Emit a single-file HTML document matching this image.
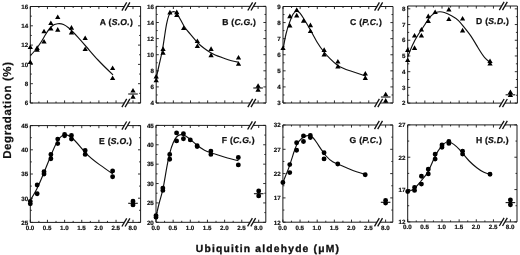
<!DOCTYPE html>
<html><head><meta charset="utf-8"><style>
html,body{margin:0;padding:0;background:#fff;}
body{width:520px;height:255px;overflow:hidden;}
svg{display:block;filter:grayscale(1);}
text{text-rendering:geometricPrecision;}
.tl{font-family:"Liberation Sans",sans-serif;font-weight:bold;font-size:6.2px;fill:#111;stroke:#111;stroke-width:0.2px;}
.pl{font-family:"Liberation Sans",sans-serif;font-weight:bold;font-size:8.6px;fill:#111;letter-spacing:0.25px;stroke:#111;stroke-width:0.25px;}
.at{font-family:"Liberation Sans",sans-serif;font-weight:bold;fill:#111;}
</style></head><body>
<svg width="520" height="255" viewBox="0 0 520 255">
<rect width="520" height="255" fill="#fff"/>
<path d="M124.3 6.5H30.3V103H124.3" fill="none" stroke="#1a1a1a" stroke-width="1.0"/>
<path d="M127.5 6.5H140.6V103H127.5" fill="none" stroke="#1a1a1a" stroke-width="1.0"/>
<line x1="121.9" y1="10.6" x2="126.7" y2="2.4" stroke="#111" stroke-width="1.3"/>
<line x1="125.1" y1="10.6" x2="129.9" y2="2.4" stroke="#111" stroke-width="1.3"/>
<line x1="121.9" y1="107.1" x2="126.7" y2="98.9" stroke="#111" stroke-width="1.3"/>
<line x1="125.1" y1="107.1" x2="129.9" y2="98.9" stroke="#111" stroke-width="1.3"/>
<path d="M30.3 103h2.6M140.6 103h-2.6M30.3 93.35h1.5M140.6 93.35h-1.5M30.3 83.7h2.6M140.6 83.7h-2.6M30.3 74.05h1.5M140.6 74.05h-1.5M30.3 64.4h2.6M140.6 64.4h-2.6M30.3 54.75h1.5M140.6 54.75h-1.5M30.3 45.1h2.6M140.6 45.1h-2.6M30.3 35.45h1.5M140.6 35.45h-1.5M30.3 25.8h2.6M140.6 25.8h-2.6M30.3 16.15h1.5M140.6 16.15h-1.5M30.3 6.5h2.6M140.6 6.5h-2.6M30.3 103v-2.6M30.3 6.5v2.6M38.88 103v-1.5M38.88 6.5v1.5M47.45 103v-2.6M47.45 6.5v2.6M56.02 103v-1.5M56.02 6.5v1.5M64.6 103v-2.6M64.6 6.5v2.6M73.17 103v-1.5M73.17 6.5v1.5M81.75 103v-2.6M81.75 6.5v2.6M90.32 103v-1.5M90.32 6.5v1.5M98.9 103v-2.6M98.9 6.5v2.6M107.47 103v-1.5M107.47 6.5v1.5M116.05 103v-2.6M116.05 6.5v2.6M133 103v-2.6M133 6.5v2.6" stroke="#1a1a1a" stroke-width="0.9" fill="none"/>
<text x="28.1" y="105.2" class="tl" text-anchor="end">6</text>
<text x="28.1" y="85.9" class="tl" text-anchor="end">8</text>
<text x="28.1" y="66.6" class="tl" text-anchor="end">10</text>
<text x="28.1" y="47.3" class="tl" text-anchor="end">12</text>
<text x="28.1" y="28" class="tl" text-anchor="end">14</text>
<text x="28.1" y="8.7" class="tl" text-anchor="end">16</text>
<text x="99.8" y="24.8" class="pl" letter-spacing="0.25">A (<tspan font-style="italic">S.O.</tspan>)</text>
<path d="M30.3 55.7 C31.87 54.04 33.43 52.37 35 50.5 C36.87 48.27 38.73 45.74 40.6 42.8 C42.37 40.02 44.13 36.86 45.9 34 C47.87 30.82 49.83 28 51.8 26.3 C53.73 24.63 55.67 24.03 57.6 23.8 C59.57 23.56 61.53 23.69 63.5 24.5 C65.27 25.22 67.03 26.49 68.8 28 C71.73 30.5 74.67 33.67 77.6 36.9 C80.73 40.35 83.87 43.89 87 47.5 C90.67 51.72 94.33 56.05 98 60 C103 65.39 108 70.1 113 74.8" fill="none" stroke="#111" stroke-width="1.15"/>
<line x1="128.2" y1="94" x2="137.8" y2="94" stroke="#111" stroke-width="1.1"/>
<path d="M30.3 44.5l2.65 4.6h-5.3zM30.3 59.5l2.65 4.6h-5.3zM37.16 45.3l2.65 4.6h-5.3zM37.16 47.2l2.65 4.6h-5.3zM44.02 28.7l2.65 4.6h-5.3zM44.02 39l2.65 4.6h-5.3zM50.88 20.5l2.65 4.6h-5.3zM50.88 26l2.65 4.6h-5.3zM57.74 14.5l2.65 4.6h-5.3zM57.74 27.1l2.65 4.6h-5.3zM71.46 25.1l2.65 4.6h-5.3zM71.46 29.8l2.65 4.6h-5.3zM85.18 35.5l2.65 4.6h-5.3zM85.18 46.5l2.65 4.6h-5.3zM112.62 65.5l2.65 4.6h-5.3zM112.62 75.4l2.65 4.6h-5.3zM133 87.9l2.65 4.6h-5.3zM133 94.1l2.65 4.6h-5.3z" fill="#000"/>
<path d="M250.2 6.4H156.2V103H250.2" fill="none" stroke="#1a1a1a" stroke-width="1.0"/>
<path d="M253.4 6.4H266V103H253.4" fill="none" stroke="#1a1a1a" stroke-width="1.0"/>
<line x1="247.8" y1="10.5" x2="252.6" y2="2.3" stroke="#111" stroke-width="1.3"/>
<line x1="251" y1="10.5" x2="255.8" y2="2.3" stroke="#111" stroke-width="1.3"/>
<line x1="247.8" y1="107.1" x2="252.6" y2="98.9" stroke="#111" stroke-width="1.3"/>
<line x1="251" y1="107.1" x2="255.8" y2="98.9" stroke="#111" stroke-width="1.3"/>
<path d="M156.2 103h2.6M266 103h-2.6M156.2 94.95h1.5M266 94.95h-1.5M156.2 86.9h2.6M266 86.9h-2.6M156.2 78.85h1.5M266 78.85h-1.5M156.2 70.8h2.6M266 70.8h-2.6M156.2 62.75h1.5M266 62.75h-1.5M156.2 54.7h2.6M266 54.7h-2.6M156.2 46.65h1.5M266 46.65h-1.5M156.2 38.6h2.6M266 38.6h-2.6M156.2 30.55h1.5M266 30.55h-1.5M156.2 22.5h2.6M266 22.5h-2.6M156.2 14.45h1.5M266 14.45h-1.5M156.2 6.4h2.6M266 6.4h-2.6M156.2 103v-2.6M156.2 6.4v2.6M164.77 103v-1.5M164.77 6.4v1.5M173.35 103v-2.6M173.35 6.4v2.6M181.92 103v-1.5M181.92 6.4v1.5M190.5 103v-2.6M190.5 6.4v2.6M199.07 103v-1.5M199.07 6.4v1.5M207.65 103v-2.6M207.65 6.4v2.6M216.22 103v-1.5M216.22 6.4v1.5M224.8 103v-2.6M224.8 6.4v2.6M233.38 103v-1.5M233.38 6.4v1.5M241.95 103v-2.6M241.95 6.4v2.6M258.1 103v-2.6M258.1 6.4v2.6" stroke="#1a1a1a" stroke-width="0.9" fill="none"/>
<text x="154" y="105.2" class="tl" text-anchor="end">4</text>
<text x="154" y="89.1" class="tl" text-anchor="end">6</text>
<text x="154" y="73" class="tl" text-anchor="end">8</text>
<text x="154" y="56.9" class="tl" text-anchor="end">10</text>
<text x="154" y="40.8" class="tl" text-anchor="end">12</text>
<text x="154" y="24.7" class="tl" text-anchor="end">14</text>
<text x="154" y="8.6" class="tl" text-anchor="end">16</text>
<text x="222.2" y="24.7" class="pl" letter-spacing="0.25">B (<tspan font-style="italic">C.G.</tspan>)</text>
<path d="M156.2 78.5 C157.13 74.03 158.07 69.55 159 65.5 C160.13 60.58 161.27 56.29 162.4 50 C163.17 45.75 163.93 40.58 164.7 35.5 C165.3 31.52 165.9 27.59 166.5 24.4 C167.27 20.32 168.03 17.44 168.8 15.6 C169.8 13.2 170.8 12.55 171.8 12.1 C172.67 11.71 173.53 11.46 174.4 11.7 C175.27 11.94 176.13 12.68 177 13.8 C177.9 14.96 178.8 16.54 179.7 18.2 C181.17 20.91 182.63 23.85 184.1 26.2 C186.17 29.52 188.23 31.67 190.3 34.1 C192.67 36.88 195.03 40.01 197.4 42.5 C199.73 44.95 202.07 46.78 204.4 48.5 C206.5 50.05 208.6 51.5 210.7 52.7 C214.33 54.77 217.97 56.08 221.6 57.4 C225.27 58.74 228.93 60.09 232.6 61 C234.57 61.49 236.53 61.84 238.5 62.2" fill="none" stroke="#111" stroke-width="1.15"/>
<line x1="253.3" y1="88" x2="262.9" y2="88" stroke="#111" stroke-width="1.1"/>
<path d="M156.2 73.8l2.65 4.6h-5.3zM156.2 77.7l2.65 4.6h-5.3zM163.06 46.3l2.65 4.6h-5.3zM163.06 50.2l2.65 4.6h-5.3zM169.92 9.8l2.65 4.6h-5.3zM176.78 9.6l2.65 4.6h-5.3zM176.78 12.4l2.65 4.6h-5.3zM183.64 25.5l2.65 4.6h-5.3zM197.36 38.5l2.65 4.6h-5.3zM197.36 43.4l2.65 4.6h-5.3zM211.08 46.3l2.65 4.6h-5.3zM211.08 52.6l2.65 4.6h-5.3zM238.52 54.9l2.65 4.6h-5.3zM238.52 61.2l2.65 4.6h-5.3zM258.1 83.2l2.65 4.6h-5.3zM258.1 87.1l2.65 4.6h-5.3z" fill="#000"/>
<path d="M377 6.5H283V103H377" fill="none" stroke="#1a1a1a" stroke-width="1.0"/>
<path d="M380.2 6.5H393V103H380.2" fill="none" stroke="#1a1a1a" stroke-width="1.0"/>
<line x1="374.6" y1="10.6" x2="379.4" y2="2.4" stroke="#111" stroke-width="1.3"/>
<line x1="377.8" y1="10.6" x2="382.6" y2="2.4" stroke="#111" stroke-width="1.3"/>
<line x1="374.6" y1="107.1" x2="379.4" y2="98.9" stroke="#111" stroke-width="1.3"/>
<line x1="377.8" y1="107.1" x2="382.6" y2="98.9" stroke="#111" stroke-width="1.3"/>
<path d="M283 103h2.6M393 103h-2.6M283 94.96h1.5M393 94.96h-1.5M283 86.92h2.6M393 86.92h-2.6M283 78.88h1.5M393 78.88h-1.5M283 70.83h2.6M393 70.83h-2.6M283 62.79h1.5M393 62.79h-1.5M283 54.75h2.6M393 54.75h-2.6M283 46.71h1.5M393 46.71h-1.5M283 38.67h2.6M393 38.67h-2.6M283 30.62h1.5M393 30.62h-1.5M283 22.58h2.6M393 22.58h-2.6M283 14.54h1.5M393 14.54h-1.5M283 6.5h2.6M393 6.5h-2.6M283 103v-2.6M283 6.5v2.6M291.57 103v-1.5M291.57 6.5v1.5M300.15 103v-2.6M300.15 6.5v2.6M308.73 103v-1.5M308.73 6.5v1.5M317.3 103v-2.6M317.3 6.5v2.6M325.88 103v-1.5M325.88 6.5v1.5M334.45 103v-2.6M334.45 6.5v2.6M343.02 103v-1.5M343.02 6.5v1.5M351.6 103v-2.6M351.6 6.5v2.6M360.18 103v-1.5M360.18 6.5v1.5M368.75 103v-2.6M368.75 6.5v2.6M385.7 103v-2.6M385.7 6.5v2.6" stroke="#1a1a1a" stroke-width="0.9" fill="none"/>
<text x="280.8" y="105.2" class="tl" text-anchor="end">3</text>
<text x="280.8" y="89.12" class="tl" text-anchor="end">4</text>
<text x="280.8" y="73.03" class="tl" text-anchor="end">5</text>
<text x="280.8" y="56.95" class="tl" text-anchor="end">6</text>
<text x="280.8" y="40.87" class="tl" text-anchor="end">7</text>
<text x="280.8" y="24.78" class="tl" text-anchor="end">8</text>
<text x="280.8" y="8.7" class="tl" text-anchor="end">9</text>
<text x="350.1" y="24.7" class="pl" letter-spacing="0.4">C (<tspan font-style="italic">P.C.</tspan>)</text>
<path d="M283 49.5 C284 43.89 285 38.28 286 34 C287.2 28.86 288.4 25.63 289.6 22.4 C290.73 19.35 291.87 16.3 293 14.3 C294.17 12.24 295.33 11.29 296.5 11.2 C297.67 11.11 298.83 11.88 300 13.2 C301.17 14.52 302.33 16.4 303.5 18.3 C305.67 21.82 307.83 25.39 310 29.3 C312.33 33.51 314.67 38.09 317 42 C319.33 45.91 321.67 49.13 324 52 C326 54.46 328 56.67 330 58.7 C332.5 61.23 335 63.49 337.5 65.2 C341.67 68.06 345.83 69.42 350 70.8 C355.2 72.52 360.4 74.26 365.6 76" fill="none" stroke="#111" stroke-width="1.15"/>
<line x1="380.9" y1="97" x2="390.5" y2="97" stroke="#111" stroke-width="1.1"/>
<path d="M283 45.5l2.65 4.6h-5.3zM289.86 13.6l2.65 4.6h-5.3zM289.86 23l2.65 4.6h-5.3zM296.72 7.3l2.65 4.6h-5.3zM296.72 12.8l2.65 4.6h-5.3zM303.58 18.1l2.65 4.6h-5.3zM310.44 22.6l2.65 4.6h-5.3zM310.44 28.5l2.65 4.6h-5.3zM324.16 47.3l2.65 4.6h-5.3zM324.16 51.8l2.65 4.6h-5.3zM337.88 59l2.65 4.6h-5.3zM337.88 63.8l2.65 4.6h-5.3zM365.32 71l2.65 4.6h-5.3zM365.32 75.3l2.65 4.6h-5.3zM385.7 91.7l2.65 4.6h-5.3zM385.7 98.1l2.65 4.6h-5.3z" fill="#000"/>
<path d="M501.7 6H407.7V103.1H501.7" fill="none" stroke="#1a1a1a" stroke-width="1.0"/>
<path d="M504.9 6H517.4V103.1H504.9" fill="none" stroke="#1a1a1a" stroke-width="1.0"/>
<line x1="499.3" y1="10.1" x2="504.1" y2="1.9" stroke="#111" stroke-width="1.3"/>
<line x1="502.5" y1="10.1" x2="507.3" y2="1.9" stroke="#111" stroke-width="1.3"/>
<line x1="499.3" y1="107.2" x2="504.1" y2="99" stroke="#111" stroke-width="1.3"/>
<line x1="502.5" y1="107.2" x2="507.3" y2="99" stroke="#111" stroke-width="1.3"/>
<path d="M407.7 103.1h2.6M517.4 103.1h-2.6M407.7 95.24h1.5M517.4 95.24h-1.5M407.7 87.39h2.6M517.4 87.39h-2.6M407.7 79.53h1.5M517.4 79.53h-1.5M407.7 71.68h2.6M517.4 71.68h-2.6M407.7 63.82h1.5M517.4 63.82h-1.5M407.7 55.96h2.6M517.4 55.96h-2.6M407.7 48.11h1.5M517.4 48.11h-1.5M407.7 40.25h2.6M517.4 40.25h-2.6M407.7 32.4h1.5M517.4 32.4h-1.5M407.7 24.54h2.6M517.4 24.54h-2.6M407.7 16.68h1.5M517.4 16.68h-1.5M407.7 8.83h2.6M517.4 8.83h-2.6M407.7 103.1v-2.6M407.7 6v2.6M416.27 103.1v-1.5M416.27 6v1.5M424.85 103.1v-2.6M424.85 6v2.6M433.43 103.1v-1.5M433.43 6v1.5M442 103.1v-2.6M442 6v2.6M450.57 103.1v-1.5M450.57 6v1.5M459.15 103.1v-2.6M459.15 6v2.6M467.72 103.1v-1.5M467.72 6v1.5M476.3 103.1v-2.6M476.3 6v2.6M484.88 103.1v-1.5M484.88 6v1.5M493.45 103.1v-2.6M493.45 6v2.6M510.4 103.1v-2.6M510.4 6v2.6" stroke="#1a1a1a" stroke-width="0.9" fill="none"/>
<text x="405.5" y="105.3" class="tl" text-anchor="end">2</text>
<text x="405.5" y="89.59" class="tl" text-anchor="end">3</text>
<text x="405.5" y="73.88" class="tl" text-anchor="end">4</text>
<text x="405.5" y="58.16" class="tl" text-anchor="end">5</text>
<text x="405.5" y="42.45" class="tl" text-anchor="end">6</text>
<text x="405.5" y="26.74" class="tl" text-anchor="end">7</text>
<text x="405.5" y="11.03" class="tl" text-anchor="end">8</text>
<text x="476.1" y="24.3" class="pl" letter-spacing="0.25">D (<tspan font-style="italic">S.D.</tspan>)</text>
<path d="M407.7 57 C409.2 53.03 410.7 49.07 412.2 45.7 C414.23 41.13 416.27 37.66 418.3 34.5 C420.33 31.34 422.37 28.47 424.4 25.3 C426.37 22.23 428.33 18.87 430.3 16.6 C432.07 14.56 433.83 13.41 435.6 12.7 C437.07 12.11 438.53 11.81 440 11.8 C441.47 11.79 442.93 12.05 444.4 12.5 C446.77 13.22 449.13 14.42 451.5 15.7 C453.83 16.96 456.17 18.31 458.5 20.6 C460.27 22.33 462.03 24.61 463.8 26.8 C466.07 29.61 468.33 32.3 470.6 35.6 C472.93 39 475.27 43.05 477.6 47 C479.97 51 482.33 54.9 484.7 57.6 C486.4 59.54 488.1 60.87 489.8 62.2" fill="none" stroke="#111" stroke-width="1.15"/>
<line x1="505.6" y1="94.8" x2="515.2" y2="94.8" stroke="#111" stroke-width="1.1"/>
<path d="M407.7 47.3l2.65 4.6h-5.3zM407.7 57.5l2.65 4.6h-5.3zM414.56 33l2.65 4.6h-5.3zM414.56 45.3l2.65 4.6h-5.3zM421.42 26.9l2.65 4.6h-5.3zM421.42 33l2.65 4.6h-5.3zM428.28 13.6l2.65 4.6h-5.3zM428.28 18.5l2.65 4.6h-5.3zM435.14 9.4l2.65 4.6h-5.3zM448.86 6.8l2.65 4.6h-5.3zM448.86 16.4l2.65 4.6h-5.3zM462.58 16l2.65 4.6h-5.3zM462.58 27.8l2.65 4.6h-5.3zM490.02 58.5l2.65 4.6h-5.3zM490.02 61l2.65 4.6h-5.3zM510.4 89.5l2.65 4.6h-5.3zM510.4 92.4l2.65 4.6h-5.3z" fill="#000"/>
<path d="M124.3 125.6H30.3V222.4H124.3" fill="none" stroke="#1a1a1a" stroke-width="1.0"/>
<path d="M127.5 125.6H140.6V222.4H127.5" fill="none" stroke="#1a1a1a" stroke-width="1.0"/>
<line x1="121.9" y1="129.7" x2="126.7" y2="121.5" stroke="#111" stroke-width="1.3"/>
<line x1="125.1" y1="129.7" x2="129.9" y2="121.5" stroke="#111" stroke-width="1.3"/>
<line x1="121.9" y1="226.5" x2="126.7" y2="218.3" stroke="#111" stroke-width="1.3"/>
<line x1="125.1" y1="226.5" x2="129.9" y2="218.3" stroke="#111" stroke-width="1.3"/>
<path d="M30.3 222.4h2.6M140.6 222.4h-2.6M30.3 210.3h1.5M140.6 210.3h-1.5M30.3 198.2h2.6M140.6 198.2h-2.6M30.3 186.1h1.5M140.6 186.1h-1.5M30.3 174h2.6M140.6 174h-2.6M30.3 161.9h1.5M140.6 161.9h-1.5M30.3 149.8h2.6M140.6 149.8h-2.6M30.3 137.7h1.5M140.6 137.7h-1.5M30.3 125.6h2.6M140.6 125.6h-2.6M30.3 222.4v-2.6M30.3 125.6v2.6M38.88 222.4v-1.5M38.88 125.6v1.5M47.45 222.4v-2.6M47.45 125.6v2.6M56.02 222.4v-1.5M56.02 125.6v1.5M64.6 222.4v-2.6M64.6 125.6v2.6M73.17 222.4v-1.5M73.17 125.6v1.5M81.75 222.4v-2.6M81.75 125.6v2.6M90.32 222.4v-1.5M90.32 125.6v1.5M98.9 222.4v-2.6M98.9 125.6v2.6M107.47 222.4v-1.5M107.47 125.6v1.5M116.05 222.4v-2.6M116.05 125.6v2.6M133 222.4v-2.6M133 125.6v2.6" stroke="#1a1a1a" stroke-width="0.9" fill="none"/>
<text x="28.1" y="224.7" class="tl" text-anchor="end">25</text>
<text x="28.1" y="200.5" class="tl" text-anchor="end">30</text>
<text x="28.1" y="176.3" class="tl" text-anchor="end">35</text>
<text x="28.1" y="152.1" class="tl" text-anchor="end">40</text>
<text x="28.1" y="127.9" class="tl" text-anchor="end">45</text>
<text x="30" y="229.9" class="tl" text-anchor="middle">0.0</text>
<text x="47.15" y="229.9" class="tl" text-anchor="middle">0.5</text>
<text x="64.3" y="229.9" class="tl" text-anchor="middle">1.0</text>
<text x="81.45" y="229.9" class="tl" text-anchor="middle">1.5</text>
<text x="98.6" y="229.9" class="tl" text-anchor="middle">2.0</text>
<text x="115.75" y="229.9" class="tl" text-anchor="middle">2.5</text>
<text x="132.7" y="229.9" class="tl" text-anchor="middle">8.0</text>
<text x="99.1" y="143.6" class="pl" letter-spacing="0.25">E (<tspan font-style="italic">S.O.</tspan>)</text>
<path d="M30.3 200.3 C32.47 196.81 34.63 193.33 36.8 189 C39.13 184.34 41.47 178.71 43.8 173 C46.03 167.54 48.27 162.01 50.5 156.5 C52.8 150.83 55.1 145.19 57.4 141.3 C59.67 137.47 61.93 135.34 64.2 134.8 C66.57 134.24 68.93 135.41 71.3 137.3 C75.97 141.03 80.63 147.58 85.3 152.6 C90.03 157.69 94.77 161.2 99.5 164.6 C103.97 167.8 108.43 170.9 112.9 174" fill="none" stroke="#111" stroke-width="1.15"/>
<line x1="128.2" y1="203.3" x2="137.8" y2="203.3" stroke="#111" stroke-width="1.1"/>
<path d="M27.85 201.5a2.45 2.45 0 1 0 4.9 0a2.45 2.45 0 1 0 -4.9 0zM27.85 203.8a2.45 2.45 0 1 0 4.9 0a2.45 2.45 0 1 0 -4.9 0zM34.71 185a2.45 2.45 0 1 0 4.9 0a2.45 2.45 0 1 0 -4.9 0zM34.71 193.7a2.45 2.45 0 1 0 4.9 0a2.45 2.45 0 1 0 -4.9 0zM41.57 171.7a2.45 2.45 0 1 0 4.9 0a2.45 2.45 0 1 0 -4.9 0zM41.57 174a2.45 2.45 0 1 0 4.9 0a2.45 2.45 0 1 0 -4.9 0zM48.43 154.4a2.45 2.45 0 1 0 4.9 0a2.45 2.45 0 1 0 -4.9 0zM48.43 158.7a2.45 2.45 0 1 0 4.9 0a2.45 2.45 0 1 0 -4.9 0zM55.29 139.1a2.45 2.45 0 1 0 4.9 0a2.45 2.45 0 1 0 -4.9 0zM55.29 143.6a2.45 2.45 0 1 0 4.9 0a2.45 2.45 0 1 0 -4.9 0zM62.15 134.4a2.45 2.45 0 1 0 4.9 0a2.45 2.45 0 1 0 -4.9 0zM62.15 135.8a2.45 2.45 0 1 0 4.9 0a2.45 2.45 0 1 0 -4.9 0zM69.01 135.4a2.45 2.45 0 1 0 4.9 0a2.45 2.45 0 1 0 -4.9 0zM69.01 139.1a2.45 2.45 0 1 0 4.9 0a2.45 2.45 0 1 0 -4.9 0zM82.73 150.4a2.45 2.45 0 1 0 4.9 0a2.45 2.45 0 1 0 -4.9 0zM82.73 154.4a2.45 2.45 0 1 0 4.9 0a2.45 2.45 0 1 0 -4.9 0zM110.17 170.9a2.45 2.45 0 1 0 4.9 0a2.45 2.45 0 1 0 -4.9 0zM110.17 176.8a2.45 2.45 0 1 0 4.9 0a2.45 2.45 0 1 0 -4.9 0zM130.55 201.3a2.45 2.45 0 1 0 4.9 0a2.45 2.45 0 1 0 -4.9 0zM130.55 204.9a2.45 2.45 0 1 0 4.9 0a2.45 2.45 0 1 0 -4.9 0z" fill="#000"/>
<path d="M250 125.4H156V222.3H250" fill="none" stroke="#1a1a1a" stroke-width="1.0"/>
<path d="M253.2 125.4H265.8V222.3H253.2" fill="none" stroke="#1a1a1a" stroke-width="1.0"/>
<line x1="247.6" y1="129.5" x2="252.4" y2="121.3" stroke="#111" stroke-width="1.3"/>
<line x1="250.8" y1="129.5" x2="255.6" y2="121.3" stroke="#111" stroke-width="1.3"/>
<line x1="247.6" y1="226.4" x2="252.4" y2="218.2" stroke="#111" stroke-width="1.3"/>
<line x1="250.8" y1="226.4" x2="255.6" y2="218.2" stroke="#111" stroke-width="1.3"/>
<path d="M156 222.3h2.6M265.8 222.3h-2.6M156 212.61h1.5M265.8 212.61h-1.5M156 202.92h2.6M265.8 202.92h-2.6M156 193.23h1.5M265.8 193.23h-1.5M156 183.54h2.6M265.8 183.54h-2.6M156 173.85h1.5M265.8 173.85h-1.5M156 164.16h2.6M265.8 164.16h-2.6M156 154.47h1.5M265.8 154.47h-1.5M156 144.78h2.6M265.8 144.78h-2.6M156 135.09h1.5M265.8 135.09h-1.5M156 125.4h2.6M265.8 125.4h-2.6M156 222.3v-2.6M156 125.4v2.6M164.57 222.3v-1.5M164.57 125.4v1.5M173.15 222.3v-2.6M173.15 125.4v2.6M181.72 222.3v-1.5M181.72 125.4v1.5M190.3 222.3v-2.6M190.3 125.4v2.6M198.88 222.3v-1.5M198.88 125.4v1.5M207.45 222.3v-2.6M207.45 125.4v2.6M216.02 222.3v-1.5M216.02 125.4v1.5M224.6 222.3v-2.6M224.6 125.4v2.6M233.18 222.3v-1.5M233.18 125.4v1.5M241.75 222.3v-2.6M241.75 125.4v2.6M258.7 222.3v-2.6M258.7 125.4v2.6" stroke="#1a1a1a" stroke-width="0.9" fill="none"/>
<text x="153.8" y="224.6" class="tl" text-anchor="end">20</text>
<text x="153.8" y="205.22" class="tl" text-anchor="end">25</text>
<text x="153.8" y="185.84" class="tl" text-anchor="end">30</text>
<text x="153.8" y="166.46" class="tl" text-anchor="end">35</text>
<text x="153.8" y="147.08" class="tl" text-anchor="end">40</text>
<text x="153.8" y="127.7" class="tl" text-anchor="end">45</text>
<text x="155.7" y="229.8" class="tl" text-anchor="middle">0.0</text>
<text x="172.85" y="229.8" class="tl" text-anchor="middle">0.5</text>
<text x="190" y="229.8" class="tl" text-anchor="middle">1.0</text>
<text x="207.15" y="229.8" class="tl" text-anchor="middle">1.5</text>
<text x="224.3" y="229.8" class="tl" text-anchor="middle">2.0</text>
<text x="241.45" y="229.8" class="tl" text-anchor="middle">2.5</text>
<text x="258.4" y="229.8" class="tl" text-anchor="middle">8.0</text>
<text x="221.8" y="143.4" class="pl" letter-spacing="0.25">F (<tspan font-style="italic">C.G.</tspan>)</text>
<path d="M156 216.6 C157.17 211.44 158.33 206.28 159.5 202 C160.63 197.84 161.77 194.5 162.9 189.2 C164.13 183.43 165.37 175.35 166.6 168.4 C167.7 162.2 168.8 156.91 169.9 152.7 C171 148.49 172.1 145.36 173.2 142.8 C174.3 140.24 175.4 138.27 176.5 137 C177.6 135.73 178.7 135.18 179.8 134.9 C180.9 134.62 182 134.62 183.1 134.9 C185 135.38 186.9 136.69 188.8 138.2 C191.27 140.16 193.73 142.44 196.2 144.5 C198.97 146.81 201.73 148.82 204.5 150.2 C206.7 151.29 208.9 151.99 211.1 152.7 C215.73 154.2 220.37 155.82 225 157.2 C229.5 158.54 234 159.67 238.5 160.8" fill="none" stroke="#111" stroke-width="1.15"/>
<line x1="253.9" y1="193.7" x2="263.5" y2="193.7" stroke="#111" stroke-width="1.1"/>
<path d="M153.55 215.6a2.45 2.45 0 1 0 4.9 0a2.45 2.45 0 1 0 -4.9 0zM153.55 217.2a2.45 2.45 0 1 0 4.9 0a2.45 2.45 0 1 0 -4.9 0zM160.41 188.1a2.45 2.45 0 1 0 4.9 0a2.45 2.45 0 1 0 -4.9 0zM160.41 190.4a2.45 2.45 0 1 0 4.9 0a2.45 2.45 0 1 0 -4.9 0zM167.27 154.4a2.45 2.45 0 1 0 4.9 0a2.45 2.45 0 1 0 -4.9 0zM167.27 159.3a2.45 2.45 0 1 0 4.9 0a2.45 2.45 0 1 0 -4.9 0zM174.13 132.9a2.45 2.45 0 1 0 4.9 0a2.45 2.45 0 1 0 -4.9 0zM174.13 140.9a2.45 2.45 0 1 0 4.9 0a2.45 2.45 0 1 0 -4.9 0zM180.99 133.8a2.45 2.45 0 1 0 4.9 0a2.45 2.45 0 1 0 -4.9 0zM180.99 138.7a2.45 2.45 0 1 0 4.9 0a2.45 2.45 0 1 0 -4.9 0zM187.85 139.9a2.45 2.45 0 1 0 4.9 0a2.45 2.45 0 1 0 -4.9 0zM194.71 145.8a2.45 2.45 0 1 0 4.9 0a2.45 2.45 0 1 0 -4.9 0zM194.71 146.6a2.45 2.45 0 1 0 4.9 0a2.45 2.45 0 1 0 -4.9 0zM208.43 151.1a2.45 2.45 0 1 0 4.9 0a2.45 2.45 0 1 0 -4.9 0zM208.43 154.4a2.45 2.45 0 1 0 4.9 0a2.45 2.45 0 1 0 -4.9 0zM235.87 157.5a2.45 2.45 0 1 0 4.9 0a2.45 2.45 0 1 0 -4.9 0zM235.87 164.9a2.45 2.45 0 1 0 4.9 0a2.45 2.45 0 1 0 -4.9 0zM256.25 191a2.45 2.45 0 1 0 4.9 0a2.45 2.45 0 1 0 -4.9 0zM256.25 195.9a2.45 2.45 0 1 0 4.9 0a2.45 2.45 0 1 0 -4.9 0z" fill="#000"/>
<path d="M376.9 125H282.9V222.2H376.9" fill="none" stroke="#1a1a1a" stroke-width="1.0"/>
<path d="M380.1 125H392.8V222.2H380.1" fill="none" stroke="#1a1a1a" stroke-width="1.0"/>
<line x1="374.5" y1="129.1" x2="379.3" y2="120.9" stroke="#111" stroke-width="1.3"/>
<line x1="377.7" y1="129.1" x2="382.5" y2="120.9" stroke="#111" stroke-width="1.3"/>
<line x1="374.5" y1="226.3" x2="379.3" y2="218.1" stroke="#111" stroke-width="1.3"/>
<line x1="377.7" y1="226.3" x2="382.5" y2="218.1" stroke="#111" stroke-width="1.3"/>
<path d="M282.9 222.2h2.6M392.8 222.2h-2.6M282.9 210.05h1.5M392.8 210.05h-1.5M282.9 197.9h2.6M392.8 197.9h-2.6M282.9 185.75h1.5M392.8 185.75h-1.5M282.9 173.6h2.6M392.8 173.6h-2.6M282.9 161.45h1.5M392.8 161.45h-1.5M282.9 149.3h2.6M392.8 149.3h-2.6M282.9 137.15h1.5M392.8 137.15h-1.5M282.9 125h2.6M392.8 125h-2.6M282.9 222.2v-2.6M282.9 125v2.6M291.47 222.2v-1.5M291.47 125v1.5M300.05 222.2v-2.6M300.05 125v2.6M308.62 222.2v-1.5M308.62 125v1.5M317.2 222.2v-2.6M317.2 125v2.6M325.77 222.2v-1.5M325.77 125v1.5M334.35 222.2v-2.6M334.35 125v2.6M342.92 222.2v-1.5M342.92 125v1.5M351.5 222.2v-2.6M351.5 125v2.6M360.07 222.2v-1.5M360.07 125v1.5M368.65 222.2v-2.6M368.65 125v2.6M385.6 222.2v-2.6M385.6 125v2.6" stroke="#1a1a1a" stroke-width="0.9" fill="none"/>
<text x="280.7" y="224.5" class="tl" text-anchor="end">12</text>
<text x="280.7" y="200.2" class="tl" text-anchor="end">17</text>
<text x="280.7" y="175.9" class="tl" text-anchor="end">22</text>
<text x="280.7" y="151.6" class="tl" text-anchor="end">27</text>
<text x="280.7" y="127.3" class="tl" text-anchor="end">32</text>
<text x="282.6" y="229.7" class="tl" text-anchor="middle">0.0</text>
<text x="299.75" y="229.7" class="tl" text-anchor="middle">0.5</text>
<text x="316.9" y="229.7" class="tl" text-anchor="middle">1.0</text>
<text x="334.05" y="229.7" class="tl" text-anchor="middle">1.5</text>
<text x="351.2" y="229.7" class="tl" text-anchor="middle">2.0</text>
<text x="368.35" y="229.7" class="tl" text-anchor="middle">2.5</text>
<text x="385.3" y="229.7" class="tl" text-anchor="middle">8.0</text>
<text x="349.6" y="143.4" class="pl" letter-spacing="0.45">G (<tspan font-style="italic">P.C.</tspan>)</text>
<path d="M282.9 182.6 C283.77 180.36 284.63 178.12 285.5 176 C286.43 173.72 287.37 171.58 288.3 169.1 C289.67 165.47 291.03 161.1 292.4 156.8 C293.77 152.5 295.13 148.27 296.5 145.3 C298.13 141.75 299.77 140.02 301.4 138.7 C303.07 137.36 304.73 136.45 306.4 135.9 C308.03 135.37 309.67 135.18 311.3 136.2 C312.97 137.24 314.63 139.54 316.3 142 C317.93 144.41 319.57 146.98 321.2 149.4 C322.83 151.82 324.47 154.1 326.1 156 C328.3 158.55 330.5 160.41 332.7 161.7 C334.53 162.77 336.37 163.46 338.2 164.2 C342.13 165.8 346.07 167.69 350 169.3 C355.23 171.44 360.47 173.07 365.7 174.7" fill="none" stroke="#111" stroke-width="1.15"/>
<line x1="380.8" y1="202.3" x2="390.4" y2="202.3" stroke="#111" stroke-width="1.1"/>
<path d="M280.45 182.5a2.45 2.45 0 1 0 4.9 0a2.45 2.45 0 1 0 -4.9 0zM287.31 164.6a2.45 2.45 0 1 0 4.9 0a2.45 2.45 0 1 0 -4.9 0zM287.31 172.6a2.45 2.45 0 1 0 4.9 0a2.45 2.45 0 1 0 -4.9 0zM294.17 142.8a2.45 2.45 0 1 0 4.9 0a2.45 2.45 0 1 0 -4.9 0zM294.17 150.2a2.45 2.45 0 1 0 4.9 0a2.45 2.45 0 1 0 -4.9 0zM301.03 135.9a2.45 2.45 0 1 0 4.9 0a2.45 2.45 0 1 0 -4.9 0zM301.03 141.5a2.45 2.45 0 1 0 4.9 0a2.45 2.45 0 1 0 -4.9 0zM307.89 135.4a2.45 2.45 0 1 0 4.9 0a2.45 2.45 0 1 0 -4.9 0zM307.89 137.5a2.45 2.45 0 1 0 4.9 0a2.45 2.45 0 1 0 -4.9 0zM321.61 152.7a2.45 2.45 0 1 0 4.9 0a2.45 2.45 0 1 0 -4.9 0zM321.61 158.9a2.45 2.45 0 1 0 4.9 0a2.45 2.45 0 1 0 -4.9 0zM335.33 164a2.45 2.45 0 1 0 4.9 0a2.45 2.45 0 1 0 -4.9 0zM362.77 174.7a2.45 2.45 0 1 0 4.9 0a2.45 2.45 0 1 0 -4.9 0zM383.15 200.5a2.45 2.45 0 1 0 4.9 0a2.45 2.45 0 1 0 -4.9 0zM383.15 203.1a2.45 2.45 0 1 0 4.9 0a2.45 2.45 0 1 0 -4.9 0z" fill="#000"/>
<path d="M501.7 124.9H407.7V221.9H501.7" fill="none" stroke="#1a1a1a" stroke-width="1.0"/>
<path d="M504.9 124.9H517V221.9H504.9" fill="none" stroke="#1a1a1a" stroke-width="1.0"/>
<line x1="499.3" y1="129" x2="504.1" y2="120.8" stroke="#111" stroke-width="1.3"/>
<line x1="502.5" y1="129" x2="507.3" y2="120.8" stroke="#111" stroke-width="1.3"/>
<line x1="499.3" y1="226" x2="504.1" y2="217.8" stroke="#111" stroke-width="1.3"/>
<line x1="502.5" y1="226" x2="507.3" y2="217.8" stroke="#111" stroke-width="1.3"/>
<path d="M407.7 221.9h2.6M517 221.9h-2.6M407.7 205.73h1.5M517 205.73h-1.5M407.7 189.57h2.6M517 189.57h-2.6M407.7 173.4h1.5M517 173.4h-1.5M407.7 157.23h2.6M517 157.23h-2.6M407.7 141.07h1.5M517 141.07h-1.5M407.7 124.9h2.6M517 124.9h-2.6M407.7 221.9v-2.6M407.7 124.9v2.6M416.27 221.9v-1.5M416.27 124.9v1.5M424.85 221.9v-2.6M424.85 124.9v2.6M433.43 221.9v-1.5M433.43 124.9v1.5M442 221.9v-2.6M442 124.9v2.6M450.57 221.9v-1.5M450.57 124.9v1.5M459.15 221.9v-2.6M459.15 124.9v2.6M467.72 221.9v-1.5M467.72 124.9v1.5M476.3 221.9v-2.6M476.3 124.9v2.6M484.88 221.9v-1.5M484.88 124.9v1.5M493.45 221.9v-2.6M493.45 124.9v2.6M510.4 221.9v-2.6M510.4 124.9v2.6" stroke="#1a1a1a" stroke-width="0.9" fill="none"/>
<text x="405.5" y="224.2" class="tl" text-anchor="end">12</text>
<text x="405.5" y="191.87" class="tl" text-anchor="end">17</text>
<text x="405.5" y="159.53" class="tl" text-anchor="end">22</text>
<text x="405.5" y="127.2" class="tl" text-anchor="end">27</text>
<text x="407.4" y="229.4" class="tl" text-anchor="middle">0.0</text>
<text x="424.55" y="229.4" class="tl" text-anchor="middle">0.5</text>
<text x="441.7" y="229.4" class="tl" text-anchor="middle">1.0</text>
<text x="458.85" y="229.4" class="tl" text-anchor="middle">1.5</text>
<text x="476" y="229.4" class="tl" text-anchor="middle">2.0</text>
<text x="493.15" y="229.4" class="tl" text-anchor="middle">2.5</text>
<text x="510.1" y="229.4" class="tl" text-anchor="middle">8.0</text>
<text x="475.9" y="142.9" class="pl" letter-spacing="0.25">H (<tspan font-style="italic">S.D.</tspan>)</text>
<path d="M407.7 191.8 C409.93 191.1 412.17 190.39 414.4 188.5 C416.6 186.63 418.8 183.61 421 181 C423.37 178.19 425.73 175.86 428.1 171.5 C430.23 167.57 432.37 161.98 434.5 157.5 C436.87 152.53 439.23 148.93 441.6 146.2 C443.9 143.55 446.2 141.72 448.5 141.8 C450.27 141.87 452.03 143.06 453.8 144.4 C455.57 145.74 457.33 147.22 459.1 149.1 C460.3 150.37 461.5 151.83 462.7 153.3 C465.03 156.16 467.37 159.08 469.7 161.5 C472.07 163.95 474.43 165.89 476.8 167.7 C479.17 169.51 481.53 171.19 483.9 172.3 C485.93 173.25 487.97 173.78 490 174.3" fill="none" stroke="#111" stroke-width="1.15"/>
<line x1="505.6" y1="202.6" x2="515.2" y2="202.6" stroke="#111" stroke-width="1.1"/>
<path d="M405.25 191.5a2.45 2.45 0 1 0 4.9 0a2.45 2.45 0 1 0 -4.9 0zM412.11 187.4a2.45 2.45 0 1 0 4.9 0a2.45 2.45 0 1 0 -4.9 0zM412.11 190.4a2.45 2.45 0 1 0 4.9 0a2.45 2.45 0 1 0 -4.9 0zM418.97 176.3a2.45 2.45 0 1 0 4.9 0a2.45 2.45 0 1 0 -4.9 0zM418.97 184.1a2.45 2.45 0 1 0 4.9 0a2.45 2.45 0 1 0 -4.9 0zM425.83 169.2a2.45 2.45 0 1 0 4.9 0a2.45 2.45 0 1 0 -4.9 0zM425.83 173.9a2.45 2.45 0 1 0 4.9 0a2.45 2.45 0 1 0 -4.9 0zM432.69 154.3a2.45 2.45 0 1 0 4.9 0a2.45 2.45 0 1 0 -4.9 0zM432.69 159.1a2.45 2.45 0 1 0 4.9 0a2.45 2.45 0 1 0 -4.9 0zM439.55 144.9a2.45 2.45 0 1 0 4.9 0a2.45 2.45 0 1 0 -4.9 0zM439.55 147.3a2.45 2.45 0 1 0 4.9 0a2.45 2.45 0 1 0 -4.9 0zM446.41 141.4a2.45 2.45 0 1 0 4.9 0a2.45 2.45 0 1 0 -4.9 0zM446.41 143.4a2.45 2.45 0 1 0 4.9 0a2.45 2.45 0 1 0 -4.9 0zM460.13 151.3a2.45 2.45 0 1 0 4.9 0a2.45 2.45 0 1 0 -4.9 0zM460.13 154.1a2.45 2.45 0 1 0 4.9 0a2.45 2.45 0 1 0 -4.9 0zM487.57 174.2a2.45 2.45 0 1 0 4.9 0a2.45 2.45 0 1 0 -4.9 0zM507.95 200a2.45 2.45 0 1 0 4.9 0a2.45 2.45 0 1 0 -4.9 0zM507.95 204.8a2.45 2.45 0 1 0 4.9 0a2.45 2.45 0 1 0 -4.9 0z" fill="#000"/>
<text class="at" font-size="11.5" letter-spacing="0.62" stroke="#111" stroke-width="0.2" transform="translate(10.6 110.1) rotate(-90)" text-anchor="middle">Degradation (%)</text>
<text class="at" font-size="10.3" x="268" y="251.6" text-anchor="middle" letter-spacing="1.2" stroke="#111" stroke-width="0.35">Ubiquitin aldehyde (&#956;M)</text>
</svg>
</body></html>
